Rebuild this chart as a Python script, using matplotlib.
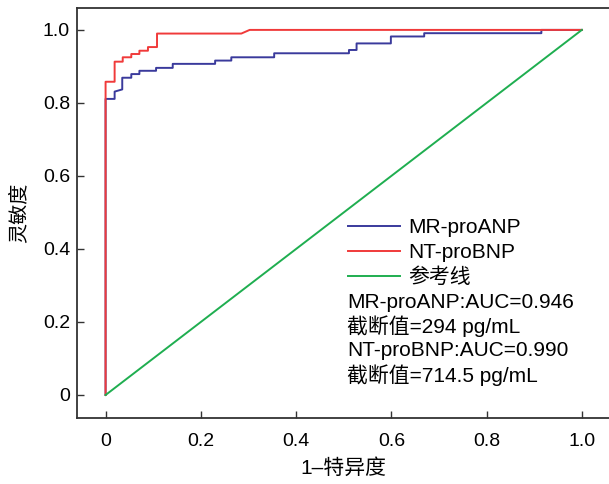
import matplotlib
matplotlib.use("Agg")
import matplotlib.pyplot as plt

plt.rcParams['font.family'] = ['Liberation Sans', 'Noto Sans CJK SC']
plt.rcParams['axes.unicode_minus'] = False

# ROC 曲线的拐点 (1-特异度, 灵敏度)
fpr_anp = [0, 0, 0.019, 0.019, 0.035, 0.035, 0.054, 0.054, 0.071, 0.071,
           0.106, 0.106, 0.141, 0.141, 0.230, 0.230, 0.264, 0.264, 0.354,
           0.354, 0.511, 0.511, 0.527, 0.527, 0.599, 0.599, 0.669, 0.669,
           0.915, 0.915, 1.0]
tpr_anp = [0, 0.811, 0.811, 0.831, 0.837, 0.869, 0.869, 0.879, 0.879, 0.888,
           0.888, 0.896, 0.896, 0.907, 0.907, 0.916, 0.916, 0.925, 0.925,
           0.936, 0.936, 0.945, 0.945, 0.963, 0.963, 0.982, 0.982, 0.991,
           0.991, 1.0, 1.0]

fpr_bnp = [0, 0, 0.019, 0.019, 0.036, 0.036, 0.054, 0.054, 0.071, 0.071,
           0.089, 0.089, 0.108, 0.108, 0.285, 0.3025, 1.0]
tpr_bnp = [0, 0.858, 0.858, 0.913, 0.913, 0.925, 0.925, 0.934, 0.934, 0.943,
           0.943, 0.953, 0.953, 0.990, 0.990, 1.0, 1.0]

ref_x = [0, 1]
ref_y = [0, 1]

labels = ["MR-proANP", "NT-proBNP", "参考线"]
notes = ["MR-proANP:AUC=0.946", "截断值=294 pg/mL",
         "NT-proBNP:AUC=0.990", "截断值=714.5 pg/mL"]

ticks = [0, 0.2, 0.4, 0.6, 0.8, 1.0]
tick_labels = ["0", "0.2", "0.4", "0.6", "0.8", "1.0"]

fig = plt.figure(figsize=(6.09, 4.84), dpi=100)
ax = fig.add_axes([77 / 609, 66 / 484, 1 - 77 / 609, 410 / 484])

ax.plot(fpr_anp, tpr_anp, color="#3a3a9c", lw=1.4, label=labels[0])
ax.plot(fpr_bnp, tpr_bnp, color="#f03a3a", lw=1.4, label=labels[1])
ax.plot(ref_x, ref_y, color="#1fae50", lw=1.4, label=labels[2])

ax.set_xlim(-0.060, 1.057)
ax.set_ylim(-0.063, 1.060)
ax.set_xticks(ticks)
ax.set_xticklabels(tick_labels)
ax.set_yticks(ticks)
ax.set_yticklabels(tick_labels)
ax.tick_params(direction="in", length=5, width=1, colors="#333333",
               labelcolor="black", labelsize=14)
ax.tick_params(axis="x", pad=11)
ax.tick_params(axis="y", pad=5)

for side in ["left", "bottom", "top"]:
    ax.spines[side].set_linewidth(1.3)
    ax.spines[side].set_color("#333333")
ax.spines["right"].set_visible(False)

ax.set_xlabel("1–特异度", fontsize=15, labelpad=6)
ax.set_ylabel("灵敏度", fontsize=14.5, labelpad=10)

ax.legend(loc="upper left", bbox_to_anchor=(348 / 609, 1 - 218 / 484),
          bbox_transform=fig.transFigure, frameon=False, fontsize=15,
          handlelength=2.5, handletextpad=0.4, labelspacing=0.28,
          borderpad=0, borderaxespad=0)

for i, note in enumerate(notes):
    fig.text(347 / 609, 1 - (302 + 24.5 * i) / 484, note, fontsize=15,
             va="center", ha="left")

fig.savefig("out.png", dpi=100)
